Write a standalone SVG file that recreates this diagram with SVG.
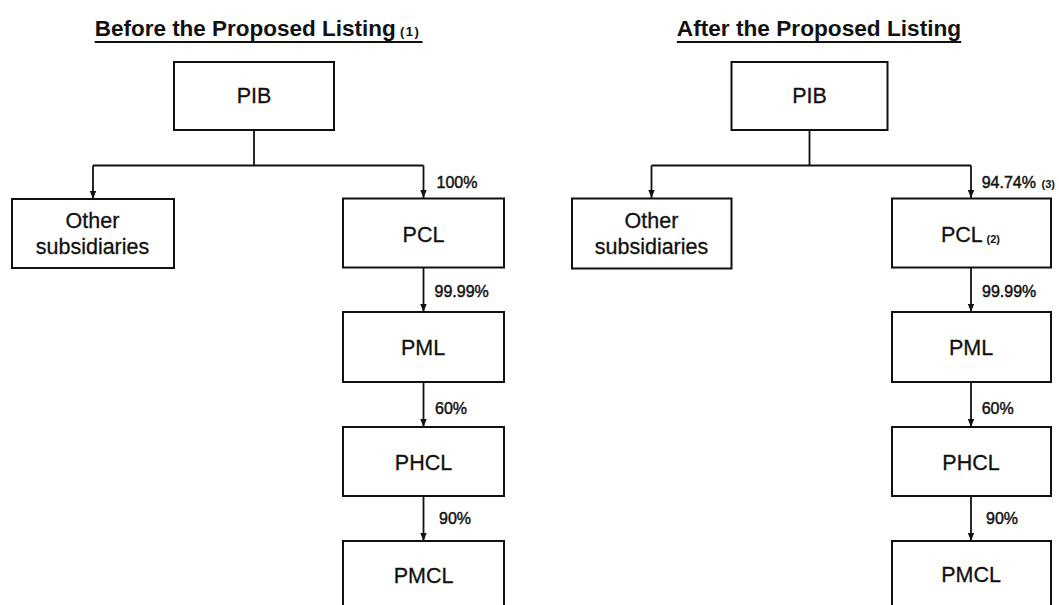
<svg xmlns="http://www.w3.org/2000/svg" width="1059" height="605" viewBox="0 0 1059 605">
<defs>
<marker id="arr" markerUnits="userSpaceOnUse" markerWidth="8" markerHeight="8" viewBox="0 0 8 8" refX="8" refY="4" orient="auto">
<path d="M0,0.8 L8,4 L0,7.2 z" fill="#111"/>
</marker>
<style>
.box{fill:#fff;stroke:#111;stroke-width:2}
.lbl{font-family:"Liberation Sans",Arial,sans-serif;font-size:21.5px;fill:#111;stroke:#111;stroke-width:0.3;text-anchor:middle}
.pct{font-family:"Liberation Sans",Arial,sans-serif;font-size:16px;fill:#111;stroke:#111;stroke-width:0.45}
.note{font-family:"Liberation Sans",Arial,sans-serif;font-size:11px;font-weight:bold;fill:#111}
.title{font-family:"Liberation Sans",Arial,sans-serif;font-size:22.5px;font-weight:bold;fill:#111}
.ul{stroke:#111;stroke-width:2.2}
.con{fill:none;stroke:#111;stroke-width:1.8}
.conA{fill:none;stroke:#111;stroke-width:1.8;marker-end:url(#arr)}
</style>
</defs>
<rect width="1059" height="605" fill="#fff"/>

<g id="titles">
<text class="title" x="94.7" y="35.5" textLength="301" lengthAdjust="spacingAndGlyphs">Before the Proposed Listing</text>
<text class="title" x="400" y="35.5" style="font-size:13px" letter-spacing="1.5">(1)</text>
<line class="ul" x1="94.7" y1="42" x2="422.6" y2="42"/>
<text class="title" x="676.8" y="35.5" textLength="284.4" lengthAdjust="spacingAndGlyphs">After the Proposed Listing</text>
<line class="ul" x1="676.8" y1="42" x2="961.2" y2="42"/>
</g>

<g id="connectors">
<path class="con" d="M254,130 V165.5 M93,165.5 H423.5"/>
<path class="conA" d="M93,165.5 V199"/>
<path class="conA" d="M423.5,165.5 V198"/>
<path class="conA" d="M423.5,267.5 V312"/>
<path class="conA" d="M423.5,382 V427"/>
<path class="conA" d="M423.5,496 V541"/>
<path class="con" d="M809.5,130 V165.5 M651.5,165.5 H971"/>
<path class="conA" d="M651.5,165.5 V198"/>
<path class="conA" d="M971,165.5 V198"/>
<path class="conA" d="M971,267.5 V312"/>
<path class="conA" d="M971,382 V427"/>
<path class="conA" d="M971,496 V541"/>
</g>

<g id="labels">
<text class="pct" x="436.5" y="188">100%</text>
<text class="pct" x="434.5" y="296.5">99.99%</text>
<text class="pct" x="435" y="413.5">60%</text>
<text class="pct" x="439" y="524">90%</text>
<text class="pct" x="981.7" y="188">94.74%</text>
<text class="note" x="1041.5" y="188">(3)</text>
<text class="pct" x="982" y="296.5">99.99%</text>
<text class="pct" x="981.7" y="413.5">60%</text>
<text class="pct" x="986" y="523.5">90%</text>
</g>

<g id="pib-before"><rect class="box" x="174" y="62" width="160" height="68"/><text class="lbl" x="254" y="102.5">PIB</text></g>
<g id="other-before"><rect class="box" x="12" y="199" width="162" height="69"/><text class="lbl" x="92.5" y="228">Other</text><text class="lbl" x="92.5" y="254">subsidiaries</text></g>
<g id="pcl-before"><rect class="box" x="343" y="198.5" width="161" height="69"/><text class="lbl" x="423.5" y="241.5">PCL</text></g>
<g id="pml-before"><rect class="box" x="343" y="312" width="161" height="70"/><text class="lbl" x="423" y="355">PML</text></g>
<g id="phcl-before"><rect class="box" x="343" y="427" width="161" height="69"/><text class="lbl" x="423.5" y="469.5">PHCL</text></g>
<g id="pmcl-before"><rect class="box" x="343" y="541" width="161" height="80"/><text class="lbl" x="423.5" y="582.5">PMCL</text></g>

<g id="pib-after"><rect class="box" x="731.5" y="62" width="156" height="68"/><text class="lbl" x="809.5" y="102.5">PIB</text></g>
<g id="other-after"><rect class="box" x="572" y="198.5" width="159.5" height="70"/><text class="lbl" x="651.5" y="228">Other</text><text class="lbl" x="651.5" y="254">subsidiaries</text></g>
<g id="pcl-after"><rect class="box" x="892" y="198.5" width="159" height="69"/><text class="lbl" x="941" y="241.5" style="text-anchor:start">PCL</text><text class="note" x="986.5" y="243">(2)</text></g>
<g id="pml-after"><rect class="box" x="892" y="312" width="159" height="70"/><text class="lbl" x="971" y="355">PML</text></g>
<g id="phcl-after"><rect class="box" x="892" y="427" width="159" height="69"/><text class="lbl" x="971" y="469.5">PHCL</text></g>
<g id="pmcl-after"><rect class="box" x="892" y="541" width="159" height="80"/><text class="lbl" x="971" y="582">PMCL</text></g>
</svg>
